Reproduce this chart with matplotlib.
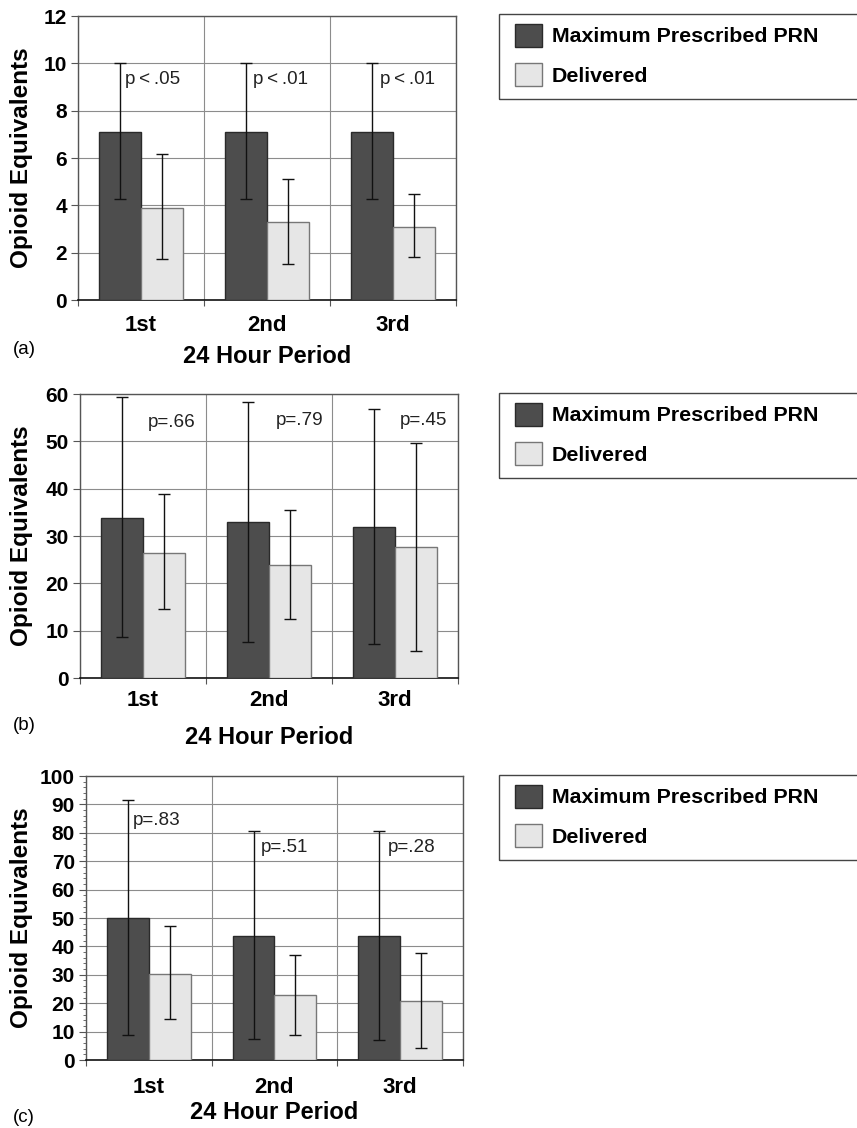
import numpy as np
import matplotlib
matplotlib.use('Agg')
from matplotlib import pyplot as plt
from matplotlib.patches import Patch, Rectangle

plt.rcParams['font.family'] = ['Liberation Sans', 'DejaVu Sans']

periods = ['1st', '2nd', '3rd']

# panel (a)
a_max = [7.1, 7.1, 7.1]
a_max_lo = [4.27, 4.27, 4.27]
a_max_hi = [10.03, 10.03, 10.03]
a_del = [3.87, 3.3, 3.1]
a_del_lo = [1.72, 1.54, 1.82]
a_del_hi = [6.15, 5.1, 4.5]
a_p = ['p\u2009<\u2009.05', 'p\u2009<\u2009.01', 'p\u2009<\u2009.01']

# panel (b)
b_max = [33.9, 32.9, 31.8]
b_max_lo = [8.7, 7.7, 7.2]
b_max_hi = [59.4, 58.3, 56.9]
b_del = [26.5, 23.9, 27.6]
b_del_lo = [14.5, 12.5, 5.8]
b_del_hi = [38.9, 35.5, 49.7]
b_p = ['p=.66', 'p=.79', 'p=.45']

# panel (c)
c_max = [50.1, 43.7, 43.7]
c_max_lo = [8.8, 7.4, 6.9]
c_max_hi = [91.4, 80.5, 80.5]
c_del = [30.4, 22.9, 20.7]
c_del_lo = [14.3, 8.8, 4.2]
c_del_hi = [47.2, 37.0, 37.6]
c_p = ['p=.83', 'p=.51', 'p=.28']

W, H = 857, 1128
fig = plt.figure(figsize=(W / 100, H / 100), dpi=100)

dark = '#4d4d4d'
light = '#e6e6e6'


def rect(l, r, t, b):
    return [l / W, 1 - b / H, (r - l) / W, (b - t) / H]


panels = [
    dict(box=rect(78, 456, 16, 300), ymax=12, step=2, mx=a_max, mlo=a_max_lo, mhi=a_max_hi,
         dl=a_del, dlo=a_del_lo, dhi=a_del_hi, p=a_p, px=[-0.13, -0.11, -0.1], py=[9.3, 9.3, 9.3],
         ylab=-0.119, xlab=-0.159, tpad=11, tag='(a)', tagy=350, leg=(14, 99), minor=None),
    dict(box=rect(80, 458, 394, 678), ymax=60, step=10, mx=b_max, mlo=b_max_lo, mhi=b_max_hi,
         dl=b_del, dlo=b_del_lo, dhi=b_del_hi, p=b_p, px=[0.04, 0.05, 0.04], py=[54.0, 54.4, 54.4],
         ylab=-0.124, xlab=-0.170, tpad=9, tag='(b)', tagy=725, leg=(393, 478), minor=None),
    dict(box=rect(86, 463, 776, 1060), ymax=100, step=10, mx=c_max, mlo=c_max_lo, mhi=c_max_hi,
         dl=c_del, dlo=c_del_lo, dhi=c_del_hi, p=c_p, px=[-0.13, -0.11, -0.1], py=[84.5, 74.9, 74.9],
         ylab=-0.141, xlab=-0.145, tpad=12, tag='(c)', tagy=1118, leg=(775, 860), minor=2),
]

x = np.arange(len(periods))
w = 0.333

for pn in panels:
    ax = fig.add_axes(pn['box'])
    mx = np.array(pn['mx'])
    dl = np.array(pn['dl'])
    ax.bar(x - w / 2, mx, w, color=dark, edgecolor='#2a2a2a', linewidth=1, zorder=3)
    ax.bar(x + w / 2, dl, w, color=light, edgecolor='#777777', linewidth=1, zorder=3)
    ax.errorbar(x - w / 2, mx, yerr=[mx - np.array(pn['mlo']), np.array(pn['mhi']) - mx],
                fmt='none', ecolor='#111111', elinewidth=1, capsize=4, capthick=1, zorder=4)
    ax.errorbar(x + w / 2, dl, yerr=[dl - np.array(pn['dlo']), np.array(pn['dhi']) - dl],
                fmt='none', ecolor='#111111', elinewidth=1, capsize=4, capthick=1, zorder=4)
    for i, s in enumerate(pn['p']):
        ax.text(x[i] + pn['px'][i], pn['py'][i], s, ha='left', va='center',
                fontsize=13.6, color='#222222', zorder=5)

    ax.set_xlim(-0.5, 2.5)
    ax.set_ylim(0, pn['ymax'])
    ax.set_yticks(np.arange(0, pn['ymax'] + 0.1, pn['step']))
    if pn['minor']:
        ax.set_yticks(np.arange(0, pn['ymax'] + 0.1, pn['minor']), minor=True)
        ax.tick_params(axis='y', which='minor', length=2.5, width=0.6, color='#555555')
    ax.set_xticks([-0.5, 0.5, 1.5, 2.5])
    ax.set_xticklabels([])
    ax.set_xticks(x, minor=True)
    ax.set_xticklabels(periods, minor=True, fontsize=16, fontweight='bold')
    ax.tick_params(axis='x', which='minor', length=0, pad=pn['tpad'])
    ax.tick_params(axis='x', which='major', length=4, width=0.8, color='#555555')
    ax.tick_params(axis='y', which='major', length=5, width=0.8, color='#555555',
                   labelsize=15, pad=3)
    for lab in ax.get_yticklabels():
        lab.set_fontweight('bold')
    ax.grid(True, which='major', color='#8c8c8c', linewidth=0.8, zorder=0)
    ax.set_axisbelow(True)
    for side in ['top', 'right', 'left']:
        ax.spines[side].set_color('#555555')
        ax.spines[side].set_linewidth(1)
    ax.spines['bottom'].set_color('#111111')
    ax.spines['bottom'].set_linewidth(1.2)

    ax.set_ylabel('Opioid Equivalents', fontsize=17.5, fontweight='bold')
    ax.yaxis.set_label_coords(pn['ylab'], 0.5)
    ax.set_xlabel('24 Hour Period', fontsize=17, fontweight='bold')
    ax.xaxis.set_label_coords(0.5, pn['xlab'])

    fig.text(13 / W, 1 - pn['tagy'] / H, pn['tag'], fontsize=13.5, ha='left', va='center')

    # legend: entries plus a frame that runs off the right edge
    top, bot = pn['leg']
    handles = [Patch(facecolor=dark, edgecolor='#2a2a2a', label='Maximum Prescribed PRN'),
               Patch(facecolor=light, edgecolor='#777777', label='Delivered')]
    fig.legend(handles=handles, loc='upper left',
               bbox_to_anchor=(505 / W, 1 - top / H),
               prop={'weight': 'bold', 'size': 15.4}, frameon=False,
               borderaxespad=0, borderpad=0.45, handlelength=1.3, handleheight=1.3,
               handletextpad=0.45, labelspacing=0.75)
    fig.add_artist(Rectangle((499 / W, 1 - bot / H), 400 / W, (bot - top) / H,
                             transform=fig.transFigure, fill=False,
                             edgecolor='#444444', linewidth=1))

fig.savefig('out.png', dpi=100)
